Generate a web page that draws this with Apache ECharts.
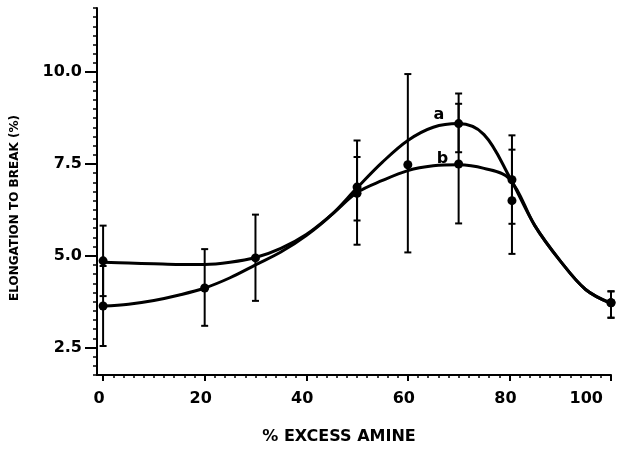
<!DOCTYPE html>
<html>
<head>
<meta charset="utf-8">
<script src="https://cdn.jsdelivr.net/npm/echarts@6/dist/echarts.min.js"></script>
<style>html,body{margin:0;padding:0;background:#fff}#c{width:620px;height:452px}</style>
</head>
<body>
<div id="c"></div>
<script>
// ---- data ----
const xTickLabels = [0, 20, 40, 60, 80, 100];
const yTickLabels = [2.5, 5.0, 7.5, 10.0];
const xMinor = [0,2,4,6,8,10,12,14,16,18,20,22,24,26,28,30,32,34,36,38,40,42,44,46,48,50,52,54,56,58,60,62,64,66,68,70,72,74,76,78,80,82,84,86,88,90,92,94,96,98,100];

// fitted curves
const curveX = [0, 5, 10, 15, 20, 25, 30, 35, 40, 45, 50, 55, 60, 65, 70, 75, 80, 85, 90, 95, 100];
const curveA = [3.63, 3.68, 3.78, 3.93, 4.12, 4.40, 4.75, 5.10, 5.55, 6.12, 6.85, 7.55, 8.14, 8.50, 8.60, 8.30, 7.15, 5.82, 4.86, 4.08, 3.70];
const curveB = [4.82, 4.80, 4.78, 4.76, 4.76, 4.82, 4.95, 5.20, 5.58, 6.12, 6.72, 7.05, 7.32, 7.45, 7.48, 7.38, 7.10, 5.82, 4.86, 4.08, 3.70];

// measured points with error bars
const xA = [0, 20, 50, 70, 80.5, 100];
const yA = [3.63, 4.12, 6.87, 8.60, 6.50, 3.72];
const loA = [2.54, 3.09, 5.96, 7.82, 5.05, 3.31];
const hiA = [4.72, 5.18, 7.69, 9.42, 7.89, 4.03];

const xB = [0, 30, 50, 60, 70, 80.5, 100];
const yB = [4.86, 4.94, 6.70, 7.48, 7.50, 7.07, 3.72];
const loB = [3.90, 3.77, 5.30, 5.09, 5.88, 5.87, 3.31];
const hiB = [5.82, 6.12, 8.14, 9.95, 9.14, 8.28, 4.03];

const curveLabels = ['a', 'b'];
const labelPosA = [66.1, 8.83];
const labelPosB = [66.8, 7.65];

// ---- chart ----
const FONT = 'DejaVu Sans';
const BLACK = '#000';
const chart = echarts.init(document.getElementById('c'), null, {renderer: 'canvas'});

const errData = [];
xA.forEach((x, i) => errData.push([x, loA[i], hiA[i]]));
xB.forEach((x, i) => errData.push([x, loB[i], hiB[i]]));

function renderErr(params, api) {
  const x = api.value(0);
  const lo = api.coord([x, api.value(1)]);
  const hi = api.coord([x, api.value(2)]);
  const w = 3.5;
  const st = {stroke: BLACK, lineWidth: 2};
  return {
    type: 'group',
    children: [
      {type: 'line', shape: {x1: lo[0], y1: lo[1], x2: hi[0], y2: hi[1]}, style: st},
      {type: 'line', shape: {x1: lo[0] - w, y1: lo[1], x2: lo[0] + w, y2: lo[1]}, style: st},
      {type: 'line', shape: {x1: hi[0] - w, y1: hi[1], x2: hi[0] + w, y2: hi[1]}, style: st}
    ]
  };
}

const axisLineStyle = {color: BLACK, width: 2};

chart.setOption({
  animation: false,
  backgroundColor: '#fff',
  grid: {left: 97, right: 9, top: 8, bottom: 77, containLabel: false, outerBoundsMode: 'none'},
  xAxis: [
    {
      type: 'value', min: -1.2, max: 100, position: 'bottom',
      axisLine: {show: true, onZero: false, lineStyle: axisLineStyle},
      axisTick: {show: true, customValues: xTickLabels, length: 6, lineStyle: {color: BLACK, width: 2}},
      axisLabel: {customValues: xTickLabels, margin: 16, color: BLACK, fontFamily: FONT, fontWeight: 'bold', fontSize: 16,
        alignMaxLabel: 'right', padding: [0, 8, 0, 0]},
      splitLine: {show: false}
    },
    {
      type: 'value', min: -1.2, max: 100, position: 'bottom',
      axisLine: {show: false, onZero: false},
      axisTick: {show: true, customValues: xMinor, length: 3, lineStyle: {color: BLACK, width: 1.5}},
      axisLabel: {show: false},
      splitLine: {show: false}
    }
  ],
  yAxis: [
    {
      type: 'value', min: 1.75, max: 11.75, position: 'left',
      axisLine: {show: true, onZero: false, lineStyle: axisLineStyle},
      axisTick: {show: true, customValues: yTickLabels, length: 12, lineStyle: {color: BLACK, width: 2}},
      axisLabel: {customValues: yTickLabels, margin: 15, color: BLACK, fontFamily: FONT, fontWeight: 'bold', fontSize: 16,
        formatter: v => v.toFixed(1)},
      splitLine: {show: false}
    },
    {
      type: 'value', min: 1.75, max: 11.75, interval: 0.25, position: 'left',
      axisLine: {show: false, onZero: false},
      axisTick: {show: true, length: 4, lineStyle: {color: BLACK, width: 1.5}},
      axisLabel: {show: false},
      splitLine: {show: false}
    }
  ],
  graphic: [
    {type: 'text', x: 15, y: 208, rotation: Math.PI / 2,
     style: {text: 'ELONGATION TO BREAK (%)', fill: BLACK, font: 'bold 12px "DejaVu Sans"', align: 'center', verticalAlign: 'middle'}},
    {type: 'text', x: 339, y: 437,
     style: {text: '% EXCESS AMINE', fill: BLACK, font: 'bold 16px "DejaVu Sans"', align: 'center', verticalAlign: 'middle'}}
  ],
  series: [
    {
      type: 'line', name: 'a', smooth: 0.35, showSymbol: false, symbol: 'none',
      data: curveX.map((x, i) => [x, curveA[i]]),
      lineStyle: {color: BLACK, width: 3}, z: 3,
      markPoint: {symbol: 'circle', symbolSize: 0, data: [{coord: labelPosA, value: curveLabels[0]}],
        label: {show: true, formatter: curveLabels[0], color: BLACK, fontFamily: FONT, fontWeight: 'bold', fontSize: 16, position: 'inside'}}
    },
    {
      type: 'line', name: 'b', smooth: 0.35, showSymbol: false, symbol: 'none',
      data: curveX.map((x, i) => [x, curveB[i]]),
      lineStyle: {color: BLACK, width: 3}, z: 3,
      markPoint: {symbol: 'circle', symbolSize: 0, data: [{coord: labelPosB, value: curveLabels[1]}],
        label: {show: true, formatter: curveLabels[1], color: BLACK, fontFamily: FONT, fontWeight: 'bold', fontSize: 16, position: 'inside'}}
    },
    {
      type: 'custom', name: 'err', renderItem: renderErr, data: errData, z: 4,
      encode: {x: 0, y: [1, 2]}
    },
    {
      type: 'scatter', name: 'ptsA', symbol: 'circle', symbolSize: 9,
      data: xA.map((x, i) => [x, yA[i]]), itemStyle: {color: BLACK, opacity: 1}, z: 5
    },
    {
      type: 'scatter', name: 'ptsB', symbol: 'circle', symbolSize: 9,
      data: xB.map((x, i) => [x, yB[i]]), itemStyle: {color: BLACK, opacity: 1}, z: 5
    }
  ]
});
</script>
</body>
</html>
